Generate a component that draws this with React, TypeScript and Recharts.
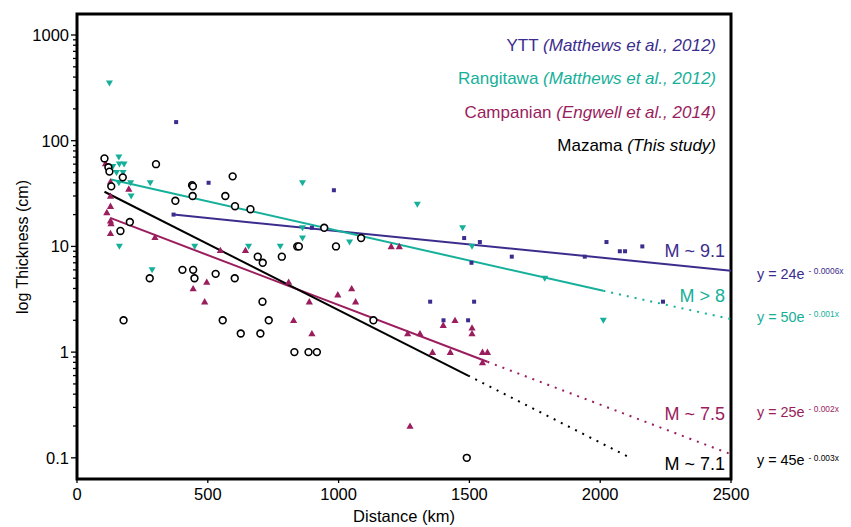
import { ComposedChart, XAxis, YAxis, Scatter, Line, ReferenceArea } from "recharts";

const FONT = '"Liberation Sans", Arial, Helvetica, sans-serif';
const YTT_C = "#3b2d8d";
const RANG_C = "#16b09a";
const CAMP_C = "#9a1d5d";
const MAZ_C = "#000000";

const Y_MIN = 0.06305;
const Y_MAX = 1580;

// [distance km, thickness cm]
const yttPts = [
  [379, 150], [503, 40], [982, 34], [898, 15], [369, 20], [1480, 12], [1540, 11], [1662, 8],
  [1508, 7], [1350, 3], [1401, 2], [1495, 2], [1518, 3], [1941, 8], [2240, 3], [2024, 11],
  [2075, 9], [2095, 9], [2161, 10],
];

const rangPts = [
  [124, 350], [160, 70], [137, 57], [162, 60], [180, 60], [151, 50], [176, 50], [160, 40],
  [205, 40], [207, 30], [280, 40], [162, 10], [450, 10], [656, 10], [777, 10], [862, 40],
  [862, 15], [862, 12], [1042, 11], [1301, 25], [1474, 15], [1510, 10], [1788, 5], [2012, 2],
  [287, 6],
];

const campPts = [
  [109, 61], [128, 41], [198, 35], [128, 30], [128, 24], [114, 21], [128, 17.5], [130, 16.5],
  [128, 13.3], [298, 12.2], [548, 9.2], [644, 9.2], [1201, 10], [1232, 10], [444, 4], [496, 4.6],
  [488, 3], [809, 4.6], [888, 3], [828, 2], [898, 1.5], [997, 3.5], [1050, 4], [1065, 3],
  [1264, 1.5], [1311, 1.5], [1273, 0.2], [1359, 1], [1400, 1.8], [1427, 1], [1445, 2],
  [1510, 1.7], [1510, 1.5], [1550, 1], [1569, 1], [1550, 0.8],
];

const mazPts = [
  [105, 68], [120, 56], [124, 51], [131, 37], [175, 45], [302, 60], [440, 38], [443, 37],
  [442, 30], [376, 27], [595, 46], [567, 30], [604, 24], [202, 17], [166, 14], [663, 22.5],
  [691, 8], [710, 7], [783, 8], [842, 10], [848, 10], [945, 15], [990, 10], [1086, 12],
  [403, 6], [444, 6], [278, 5], [449, 5], [530, 5.5], [603, 5], [178, 2], [557, 2],
  [626, 1.5], [701, 1.5], [709, 3], [733, 2], [831, 1], [885, 1], [917, 1], [1133, 2],
  [1490, 0.1],
];

// fit lines, end points
const yttFit = [[369, 20], [2500, 5.9]];
const rangFit = [[130, 43], [2012, 3.8]];
const rangExt = [[2012, 3.8], [2500, 2.05]];
const campFit = [[127, 18.6], [1569, 0.81]];
const campExt = [[1569, 0.81], [2500, 0.108]];
const mazFit = [[105, 32.9], [1495, 0.6]];
const mazExt = [[1495, 0.6], [2108, 0.102]];

const xTicks = [0, 500, 1000, 1500, 2000, 2500];
const yMajor = [0.1, 1, 10, 100, 1000];
const yTicks = [
  0.1, 0.2, 0.3, 0.4, 0.5, 0.6, 0.7, 0.8, 0.9,
  1, 2, 3, 4, 5, 6, 7, 8, 9,
  10, 20, 30, 40, 50, 60, 70, 80, 90,
  100, 200, 300, 400, 500, 600, 700, 800, 900, 1000,
];

const toRows = (pts: number[][]) => pts.map(([x, y]) => ({ x, y }));

const Square = (p: any) => <rect x={p.cx - 2} y={p.cy - 2} width={4} height={4} fill={YTT_C} />;
const TriDown = (p: any) => (
  <polygon
    points={`${p.cx - 3.5},${p.cy - 2.6} ${p.cx + 3.5},${p.cy - 2.6} ${p.cx},${p.cy + 3.4}`}
    fill={RANG_C}
  />
);
const TriUp = (p: any) => (
  <polygon
    points={`${p.cx - 3.6},${p.cy + 2.8} ${p.cx + 3.6},${p.cy + 2.8} ${p.cx},${p.cy - 3.6}`}
    fill={CAMP_C}
  />
);
const Ring = (p: any) => <circle cx={p.cx} cy={p.cy} r={3.4} fill="#fff" stroke={MAZ_C} strokeWidth={1.6} />;

const YTick = (p: any) => {
  const v = p.payload.value;
  const major = yMajor.includes(v);
  return (
    <g>
      <line x1={p.x - (major ? 6 : 4)} x2={p.x} y1={p.y} y2={p.y} stroke="#000" strokeWidth={1.3} />
      {major && (
        <text x={p.x - 8} y={p.y + 6} textAnchor="end" fontSize={16.5} fontFamily={FONT} fill="#000">
          {v}
        </text>
      )}
    </g>
  );
};

const XTick = (p: any) => (
  <g>
    <line x1={p.x} x2={p.x} y1={p.y} y2={p.y + 4} stroke="#000" strokeWidth={1.3} />
    <text x={p.x} y={p.y + 21} textAnchor="middle" fontSize={16.5} fontFamily={FONT} fill="#000">
      {p.payload.value}
    </text>
  </g>
);

const legend = [
  { name: "YTT", ref: "(Matthews et al., 2012)", color: YTT_C, y: 50.5 },
  { name: "Rangitawa", ref: "(Matthews et al., 2012)", color: RANG_C, y: 84 },
  { name: "Campanian", ref: "(Engwell et al., 2014)", color: CAMP_C, y: 117.5 },
  { name: "Mazama", ref: "(This study)", color: MAZ_C, y: 150.5 },
];

const magLabels = [
  { text: "M ~ 9.1", color: YTT_C, y: 257 },
  { text: "M > 8", color: RANG_C, y: 302 },
  { text: "M ~ 7.5", color: CAMP_C, y: 420 },
  { text: "M ~ 7.1", color: MAZ_C, y: 470 },
];

const equations = [
  { base: "y = 24e", exp: "- 0.0006x", color: YTT_C, y: 278.5 },
  { base: "y = 50e", exp: "- 0.001x", color: RANG_C, y: 321.5 },
  { base: "y = 25e", exp: "- 0.002x", color: CAMP_C, y: 416.5 },
  { base: "y = 45e", exp: "- 0.003x", color: MAZ_C, y: 465 },
];

export default function App() {
  return (
    <div style={{ position: "fixed", left: 0, top: 0, width: 851, height: 527, background: "#fff" }}>
      <ComposedChart width={851} height={527} margin={{ top: 14, right: 120, bottom: 0, left: 0 }}>
        <XAxis
          type="number"
          dataKey="x"
          domain={[0, 2500]}
          ticks={xTicks}
          interval={0}
          height={48}
          axisLine={false}
          tickLine={false}
          tickSize={0}
          tickMargin={0}
          tick={(p: any) => <XTick {...p} />}
          allowDataOverflow
        />
        <YAxis
          type="number"
          dataKey="y"
          scale="log"
          domain={[Y_MIN, Y_MAX]}
          ticks={yTicks}
          interval={0}
          width={77}
          axisLine={false}
          tickLine={false}
          tickSize={0}
          tickMargin={0}
          tick={(p: any) => <YTick {...p} />}
          allowDataOverflow
        />
        <Line data={toRows(yttFit)} dataKey="y" stroke={YTT_C} strokeWidth={2} dot={false} isAnimationActive={false} />
        <Line data={toRows(rangFit)} dataKey="y" stroke={RANG_C} strokeWidth={2} dot={false} isAnimationActive={false} />
        <Line data={toRows(rangExt)} dataKey="y" stroke={RANG_C} strokeWidth={2} strokeDasharray="2 6" dot={false} isAnimationActive={false} />
        <Line data={toRows(campFit)} dataKey="y" stroke={CAMP_C} strokeWidth={2} dot={false} isAnimationActive={false} />
        <Line data={toRows(campExt)} dataKey="y" stroke={CAMP_C} strokeWidth={2} strokeDasharray="2 6" dot={false} isAnimationActive={false} />
        <Line data={toRows(mazFit)} dataKey="y" stroke={MAZ_C} strokeWidth={2} dot={false} isAnimationActive={false} />
        <Line data={toRows(mazExt)} dataKey="y" stroke={MAZ_C} strokeWidth={2} strokeDasharray="2 6" dot={false} isAnimationActive={false} />
        <Scatter data={toRows(yttPts)} dataKey="y" shape={Square} isAnimationActive={false} />
        <Scatter data={toRows(rangPts)} dataKey="y" shape={TriDown} isAnimationActive={false} />
        <Scatter data={toRows(campPts)} dataKey="y" shape={TriUp} isAnimationActive={false} />
        <Scatter data={toRows(mazPts)} dataKey="y" shape={Ring} isAnimationActive={false} />
        <ReferenceArea
          x1={0}
          x2={2500}
          y1={Y_MIN}
          y2={Y_MAX}
          fill="none"
          fillOpacity={0}
          stroke="#000"
          strokeWidth={3}
          ifOverflow="visible"
        />
      </ComposedChart>
      <svg
        width={851}
        height={527}
        style={{ position: "absolute", left: 0, top: 0, pointerEvents: "none" }}
        fontFamily={FONT}
      >
        {legend.map((l) => (
          <text key={l.name} x={716} y={l.y} textAnchor="end" fontSize={17} fill={l.color}>
            {l.name} <tspan fontStyle="italic">{l.ref}</tspan>
          </text>
        ))}
        {magLabels.map((m) => (
          <text key={m.text} x={725} y={m.y} textAnchor="end" fontSize={18} fill={m.color}>
            {m.text}
          </text>
        ))}
        {equations.map((e) => (
          <text key={e.base} x={757} y={e.y} fontSize={14.4} fill={e.color}>
            {e.base}
            <tspan dx={4} dy={-4.5} fontSize={8.4}>
              {e.exp}
            </tspan>
          </text>
        ))}
        <text x={404} y={522} textAnchor="middle" fontSize={16.5} fill="#000">
          Distance (km)
        </text>
        <text x={28} y={247} transform="rotate(-90 28 247)" textAnchor="middle" fontSize={16} fill="#000">
          log Thickness (cm)
        </text>
      </svg>
    </div>
  );
}
